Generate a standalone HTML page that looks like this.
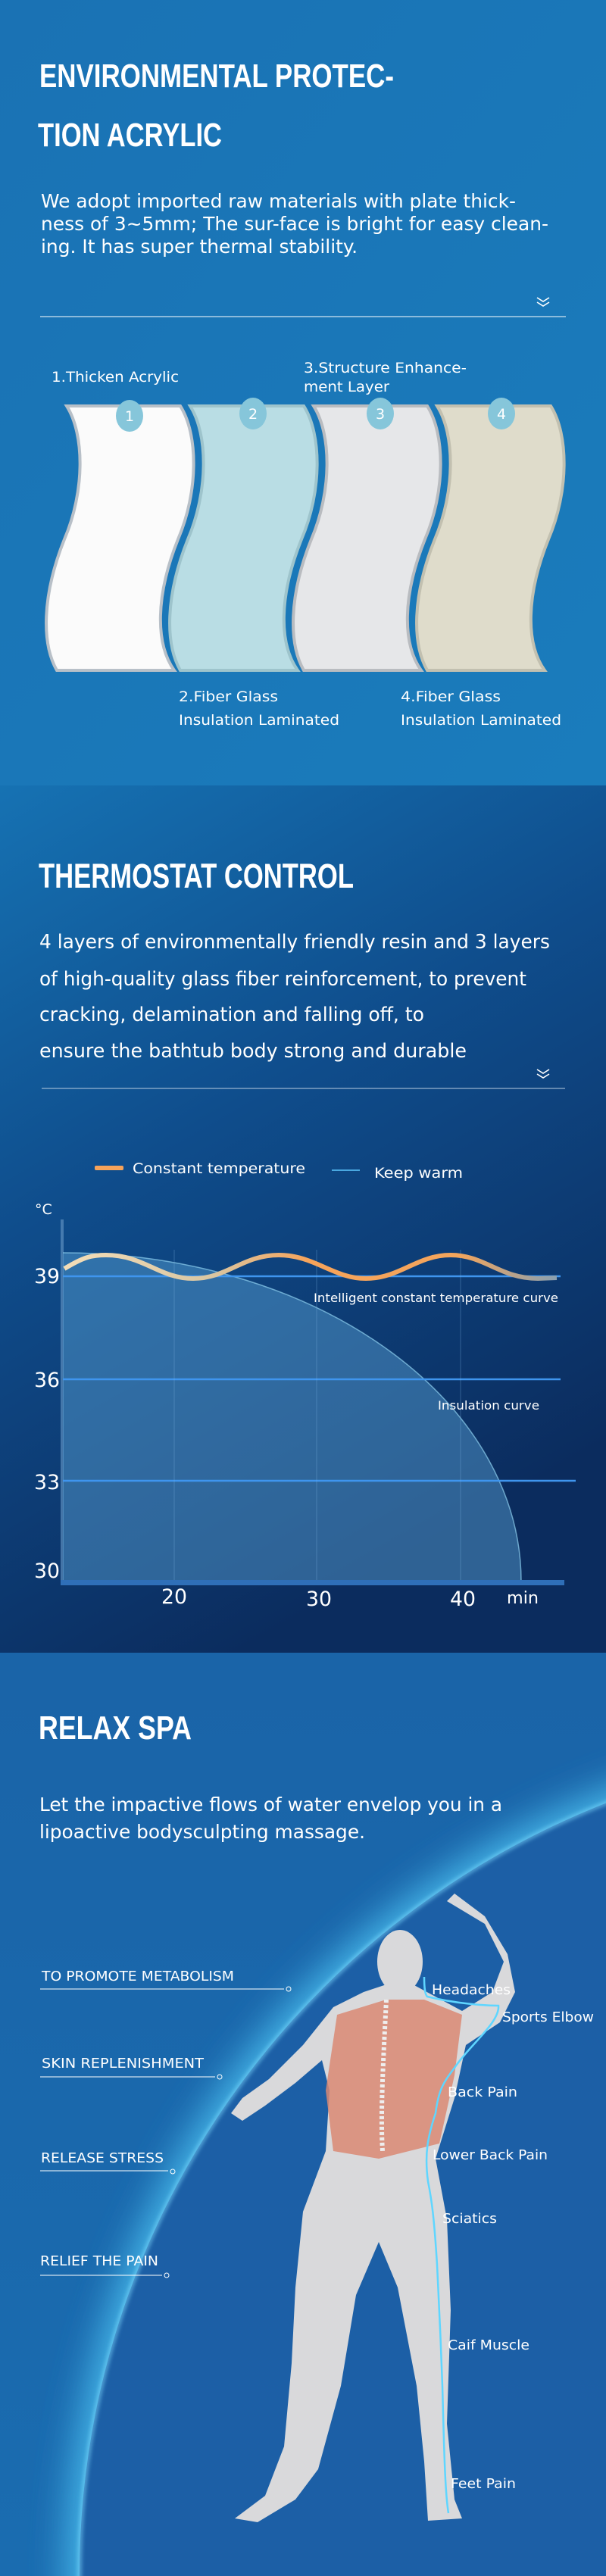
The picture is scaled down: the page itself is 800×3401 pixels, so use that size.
<!DOCTYPE html>
<html><head><meta charset="utf-8"><style>
html,body{margin:0;padding:0;background:#1a78b8;overflow:hidden}
svg{display:block}
text{font-family:"DejaVu Sans","Liberation Sans",sans-serif;fill:#fff}
.t{font-family:"Liberation Sans",sans-serif;font-weight:bold}
</style></head><body>
<svg width="800" height="3401" viewBox="0 0 800 3401" xmlns="http://www.w3.org/2000/svg">
<defs>
<linearGradient id="g1" x1="0" y1="0" x2="1" y2="1"><stop offset="0" stop-color="#1a72b4"/><stop offset="1" stop-color="#1a7cbc"/></linearGradient>
<linearGradient id="g2" x1="0" y1="0" x2="0.4" y2="1"><stop offset="0" stop-color="#1672b3"/><stop offset="0.45" stop-color="#0f4d8c"/><stop offset="1" stop-color="#0b2c5e"/></linearGradient>
<linearGradient id="g3" x1="0" y1="0" x2="0" y2="1"><stop offset="0" stop-color="#1a64a8"/><stop offset="1" stop-color="#1a6cb0"/></linearGradient>
<linearGradient id="orange" x1="0" x2="1"><stop offset="0" stop-color="#f3ddb8"/><stop offset="0.3" stop-color="#d9c6a2"/><stop offset="0.5" stop-color="#f6a35a"/><stop offset="0.8" stop-color="#f3a55c"/><stop offset="1" stop-color="#8aa0b0"/></linearGradient>
<filter id="blur"><feGaussianBlur stdDeviation="25"/></filter>
<filter id="blur2"><feGaussianBlur stdDeviation="3"/></filter>
</defs>
<!-- Section 1 -->
<rect x="0" y="0" width="800" height="1037" fill="url(#g1)"/>
<text class="t" x="52" y="115" font-size="44" textLength="468" lengthAdjust="spacingAndGlyphs">ENVIRONMENTAL PROTEC-</text>
<text class="t" x="50" y="193" font-size="44" textLength="243" lengthAdjust="spacingAndGlyphs">TION ACRYLIC</text>
<text x="54" y="274" font-size="25" textLength="627" lengthAdjust="spacingAndGlyphs">We adopt imported raw materials with plate thick-</text>
<text x="54" y="304" font-size="25" textLength="670" lengthAdjust="spacingAndGlyphs">ness of 3~5mm; The sur-face is bright for easy clean-</text>
<text x="54" y="334" font-size="25" textLength="418" lengthAdjust="spacingAndGlyphs">ing. It has super thermal stability.</text>
<path d="M709 393 l8 5 l8 -5 M709 399 l8 5 l8 -5" stroke="#fff" stroke-width="1.6" fill="none"/>
<line x1="53" y1="418" x2="747" y2="418" stroke="#fff" stroke-width="1"/>
<text x="68" y="504" font-size="19" textLength="168" lengthAdjust="spacingAndGlyphs">1.Thicken Acrylic</text>
<text x="401" y="492" font-size="19" textLength="215" lengthAdjust="spacingAndGlyphs">3.Structure Enhance-</text>
<text x="401" y="517" font-size="19" textLength="113" lengthAdjust="spacingAndGlyphs">ment Layer</text>
<g>
<path d="M88 536 L238 536 C262 574 262 649 235 712 C205 787 205 850 230 885 L75 885 C55 850 55 787 85 712 C112 649 112 574 88 536 Z" fill="#fbfbfb" stroke="#b8c0c8" stroke-width="4"/>
<path d="M251 536 L401 536 C425 574 425 649 398 712 C368 787 368 850 393 885 L238 885 C218 850 218 787 248 712 C275 649 275 574 251 536 Z" fill="#b9dde4" stroke="#9ec4cc" stroke-width="4"/>
<path d="M414 536 L564 536 C588 574 588 649 561 712 C531 787 531 850 556 885 L401 885 C381 850 381 787 411 712 C438 649 438 574 414 536 Z" fill="#e6e7e9" stroke="#b9bcc0" stroke-width="4"/>
<path d="M577 536 L727 536 C751 574 751 649 724 712 C694 787 694 850 719 885 L564 885 C544 850 544 787 574 712 C601 649 601 574 577 536 Z" fill="#dfdccb" stroke="#c2c0b0" stroke-width="4"/>
</g>
<g font-size="19" text-anchor="middle">
<ellipse cx="171" cy="549" rx="18" ry="21" fill="#86c6da"/><text x="171" y="556">1</text>
<ellipse cx="334" cy="546" rx="18" ry="21" fill="#86c6da"/><text x="334" y="553">2</text>
<ellipse cx="502" cy="546" rx="18" ry="21" fill="#86c6da"/><text x="502" y="553">3</text>
<ellipse cx="662" cy="546" rx="18" ry="21" fill="#86c6da"/><text x="662" y="553">4</text>
</g>
<text x="236" y="926" font-size="19" textLength="131" lengthAdjust="spacingAndGlyphs">2.Fiber Glass</text>
<text x="236" y="957" font-size="19" textLength="212" lengthAdjust="spacingAndGlyphs">Insulation Laminated</text>
<text x="529" y="926" font-size="19" textLength="132" lengthAdjust="spacingAndGlyphs">4.Fiber Glass</text>
<text x="529" y="957" font-size="19" textLength="212" lengthAdjust="spacingAndGlyphs">Insulation Laminated</text>

<!-- Section 2 -->
<rect x="0" y="1037" width="800" height="1145" fill="url(#g2)"/>
<text class="t" x="51" y="1172" font-size="45" textLength="416" lengthAdjust="spacingAndGlyphs">THERMOSTAT CONTROL</text>
<text x="52" y="1252" font-size="26" textLength="674" lengthAdjust="spacingAndGlyphs">4 layers of environmentally friendly resin and 3 layers</text>
<text x="52" y="1301" font-size="26" textLength="643" lengthAdjust="spacingAndGlyphs">of high-quality glass fiber reinforcement, to prevent</text>
<text x="52" y="1348" font-size="26" textLength="508" lengthAdjust="spacingAndGlyphs">cracking, delamination and falling off, to</text>
<text x="52" y="1396" font-size="26" textLength="564" lengthAdjust="spacingAndGlyphs">ensure the bathtub  body strong and durable</text>
<path d="M709 1412 l8 5 l8 -5 M709 1418 l8 5 l8 -5" stroke="#fff" stroke-width="1.6" fill="none"/>
<line x1="55" y1="1437" x2="746" y2="1437" stroke="#b8cce0" stroke-width="1"/>
<rect x="125" y="1539" width="38" height="6" rx="2" fill="#f6a35a"/>
<text x="175" y="1549" font-size="19" textLength="228" lengthAdjust="spacingAndGlyphs">Constant temperature</text>
<line x1="438" y1="1545" x2="475" y2="1545" stroke="#4aa8e0" stroke-width="2"/>
<text x="494" y="1555" font-size="19" textLength="117" lengthAdjust="spacingAndGlyphs">Keep warm</text>
<text x="46" y="1603" font-size="19">°C</text>
<rect x="80" y="1610" width="4" height="480" fill="#5d8fbf" opacity="0.7"/>
<path d="M83 1654 A605 434 0 0 1 688 2088 L83 2088 Z" fill="#5aa4d6" opacity="0.45"/>
<path d="M83 1654 A605 434 0 0 1 688 2088" fill="none" stroke="#8fd0f0" stroke-width="1.5" opacity="0.7"/>
<g stroke="#3f95ee" stroke-width="2.5">
<line x1="83" y1="1685" x2="740" y2="1685"/>
<line x1="83" y1="1821" x2="740" y2="1821"/>
<line x1="83" y1="1955" x2="760" y2="1955"/>
</g>
<g stroke="#7ab0e0" stroke-width="1" opacity="0.35">
<line x1="230" y1="1650" x2="230" y2="2088"/><line x1="418" y1="1650" x2="418" y2="2088"/><line x1="608" y1="1650" x2="608" y2="2088"/>
</g>
<rect x="80" y="2086" width="665" height="7" fill="#2f6fb8"/>
<path d="M85 1675 C110 1660 120 1657 140 1657 C190 1657 210 1688 255 1688 C300 1688 320 1657 368 1657 C415 1657 440 1688 483 1688 C528 1688 550 1657 595 1657 C640 1657 660 1688 710 1688 L735 1687" fill="none" stroke="url(#orange)" stroke-width="6"/>
<text x="414" y="1719" font-size="16" textLength="323" lengthAdjust="spacingAndGlyphs">Intelligent constant temperature curve</text>
<text x="578" y="1861" font-size="16" textLength="134" lengthAdjust="spacingAndGlyphs">Insulation curve</text>
<g font-size="27">
<text x="45" y="1694" textLength="34" lengthAdjust="spacingAndGlyphs">39</text>
<text x="45" y="1831" textLength="34" lengthAdjust="spacingAndGlyphs">36</text>
<text x="45" y="1966" textLength="34" lengthAdjust="spacingAndGlyphs">33</text>
<text x="45" y="2083" textLength="34" lengthAdjust="spacingAndGlyphs">30</text>
<text x="213" y="2117" textLength="34" lengthAdjust="spacingAndGlyphs">20</text>
<text x="404" y="2120" textLength="34" lengthAdjust="spacingAndGlyphs">30</text>
<text x="594" y="2120" textLength="34" lengthAdjust="spacingAndGlyphs">40</text>
<text x="669" y="2117" font-size="22" textLength="42" lengthAdjust="spacingAndGlyphs">min</text>
</g>

<!-- Section 3 -->
<rect x="0" y="2182" width="800" height="1219" fill="url(#g3)"/>
<circle cx="1200" cy="3400" r="1110" fill="#4cc0f0" filter="url(#blur)" opacity="0.95"/>
<circle cx="1200" cy="3400" r="1095" fill="#1c5fa6"/>
<circle cx="1200" cy="3400" r="1095" fill="none" stroke="#7fdcff" stroke-width="3" filter="url(#blur2)"/>
<text class="t" x="51" y="2296" font-size="44" textLength="202" lengthAdjust="spacingAndGlyphs">RELAX SPA</text>
<text x="52" y="2391" font-size="25" textLength="611" lengthAdjust="spacingAndGlyphs">Let the impactive flows of water envelop you in a</text>
<text x="52" y="2427" font-size="25" textLength="430" lengthAdjust="spacingAndGlyphs">lipoactive bodysculpting massage.</text>
<g font-size="18">
<text x="55" y="2615" textLength="254" lengthAdjust="spacingAndGlyphs">TO PROMOTE METABOLISM</text>
<text x="55" y="2730" textLength="214" lengthAdjust="spacingAndGlyphs">SKIN REPLENISHMENT</text>
<text x="54" y="2855" textLength="162" lengthAdjust="spacingAndGlyphs">RELEASE STRESS</text>
<text x="53" y="2991" textLength="156" lengthAdjust="spacingAndGlyphs">RELIEF THE PAIN</text>
</g>
<g stroke="#fff" stroke-width="1" fill="none">
<line x1="53" y1="2626" x2="375" y2="2626"/><circle cx="381" cy="2626" r="3"/>
<line x1="53" y1="2742" x2="284" y2="2742"/><circle cx="290" cy="2742" r="3"/>
<line x1="53" y1="2866" x2="222" y2="2866"/><circle cx="228" cy="2867" r="3"/>
<line x1="53" y1="3004" x2="214" y2="3004"/><circle cx="220" cy="3004" r="3"/>
</g>
<!-- figure -->
<g fill="#d9d9db">
<ellipse cx="528" cy="2590" rx="30" ry="42"/>
<path d="M510 2620 L545 2620 L610 2655 L650 2630 L665 2590 L640 2540 L590 2510 L600 2500 L640 2530 L670 2580 L680 2630 L660 2670 L615 2700 L600 2770 L575 2850 L590 2930 L595 3050 L590 3200 L600 3300 L610 3325 L565 3328 L560 3250 L550 3150 L525 3020 L500 2960 L470 3030 L450 3150 L420 3260 L390 3300 L340 3330 L310 3325 L350 3295 L375 3230 L385 3120 L390 3020 L400 2920 L430 2840 L435 2760 L425 2720 L390 2750 L350 2780 L320 2800 L305 2790 L320 2770 L355 2745 L400 2700 L440 2650 L480 2630 Z"/>
</g>
<path d="M445 2660 L510 2640 L560 2640 L610 2660 L600 2740 L580 2830 L500 2850 L440 2840 L430 2760 Z" fill="#d98873" opacity="0.85"/>
<path d="M510 2640 C506 2720 502 2790 505 2840" stroke="#eee" stroke-width="6" fill="none" stroke-dasharray="4 3"/>
<path d="M560 2610 C560 2625 561 2633 564 2636 C600 2645 640 2648 658 2648 C660 2670 620 2700 600 2730 C585 2750 579 2759 575 2790 C565 2820 560 2843 565 2880 C570 2905 573 2927 577 2990 C580 3050 582 3094 584 3150 C586 3220 587 3287 592 3318" fill="none" stroke="#5fd6ff" stroke-width="2.5"/>
<g font-size="18">
<text x="570" y="2633" textLength="104" lengthAdjust="spacingAndGlyphs">Headaches</text>
<text x="663" y="2669" textLength="121" lengthAdjust="spacingAndGlyphs">Sports Elbow</text>
<text x="591" y="2768" textLength="92" lengthAdjust="spacingAndGlyphs">Back Pain</text>
<text x="571" y="2851" textLength="152" lengthAdjust="spacingAndGlyphs">Lower Back Pain</text>
<text x="584" y="2935" textLength="72" lengthAdjust="spacingAndGlyphs">Sciatics</text>
<text x="591" y="3102" textLength="108" lengthAdjust="spacingAndGlyphs">Caif Muscle</text>
<text x="595" y="3285" textLength="86" lengthAdjust="spacingAndGlyphs">Feet Pain</text>
</g>
</svg>
</body></html>
